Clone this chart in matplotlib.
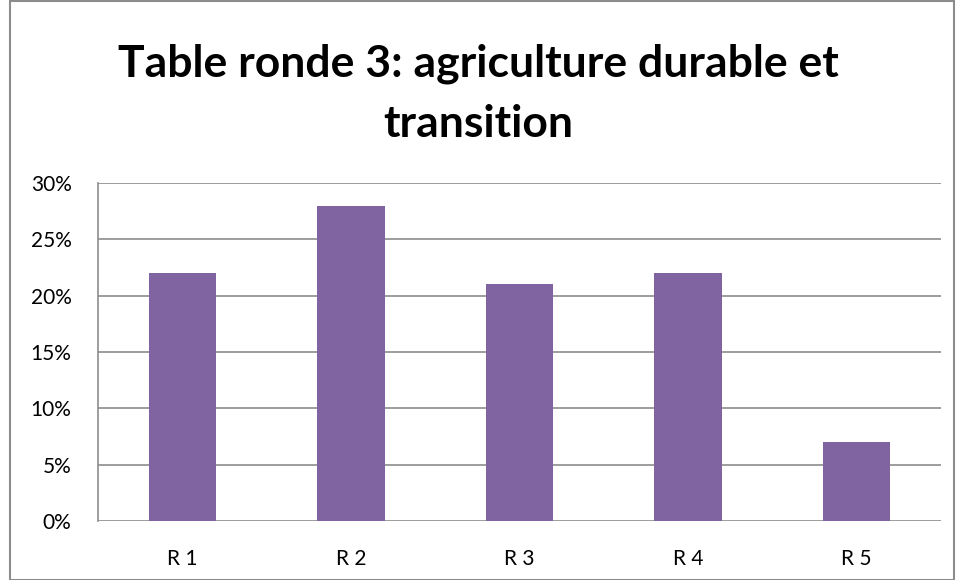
import matplotlib
matplotlib.use('Agg')
import matplotlib.pyplot as plt
from matplotlib.patches import Rectangle
from matplotlib.ticker import PercentFormatter

categories = ['R 1', 'R 2', 'R 3', 'R 4', 'R 5']
values = [22, 28, 21, 22, 7]
title = 'Table ronde 3: agriculture durable et\ntransition'

plt.rcParams['font.family'] = ['Lato', 'DejaVu Sans']

fig = plt.figure(figsize=(9.56, 5.8), dpi=100)
ax = fig.add_axes([0.1025, 0.1017, 0.8815, 0.5828])

x = range(len(categories))
ax.bar(x, values, width=0.4, color='#8064A2', zorder=3)

ax.set_xlim(-0.5, len(categories) - 0.5)
ax.set_ylim(0, 30)
ax.set_yticks(range(0, 31, 5))
ax.yaxis.set_major_formatter(PercentFormatter(decimals=0))
ax.set_xticks(list(x))
ax.set_xticklabels(categories)
ax.tick_params(length=0, labelsize=15)
ax.tick_params(axis='x', pad=20)
ax.tick_params(axis='y', pad=19)
ax.grid(axis='y', color='#8c8c8c', linewidth=1.2, zorder=0)
for s in ['top', 'right', 'bottom']:
    ax.spines[s].set_visible(False)
ax.spines['left'].set_color('#8c8c8c')
ax.spines['left'].set_linewidth(1.2)

fig.text(0.500, 0.838, title, ha='center', va='center', fontsize=32,
         fontweight='bold', linespacing=1.6)

fig.patches.append(Rectangle((0.01, 0.0), 0.988, 0.998, transform=fig.transFigure,
                             fill=False, edgecolor='#8c8c8c', linewidth=1.5))

fig.savefig('out.png', dpi=100)
